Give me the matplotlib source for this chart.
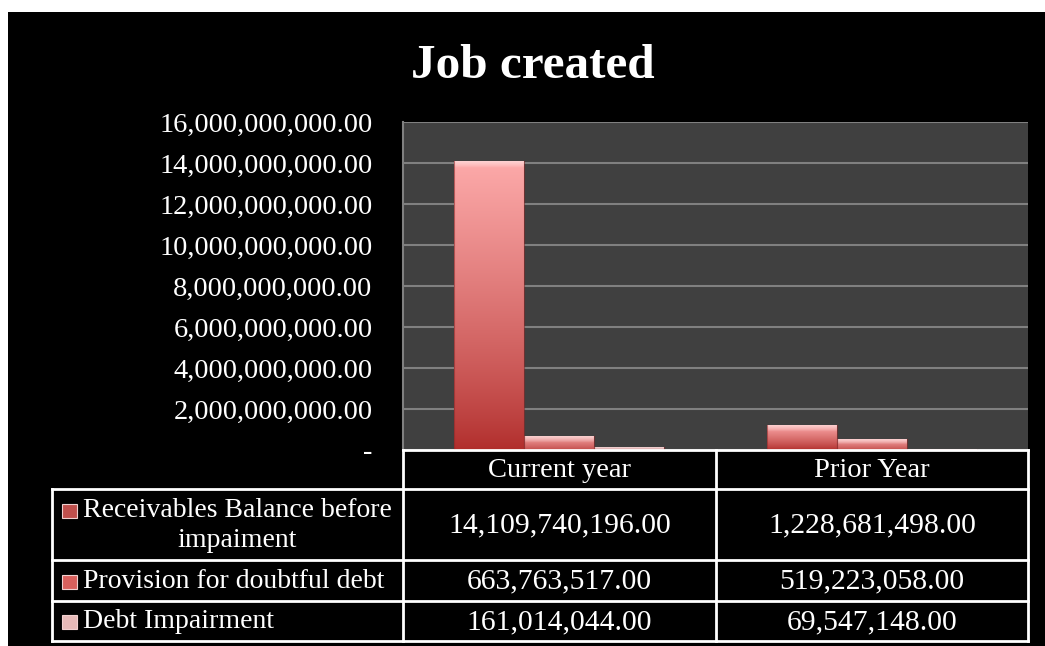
import numpy as np
import matplotlib
matplotlib.use("Agg")
import matplotlib.pyplot as plt
from matplotlib.patches import Rectangle
from matplotlib.colors import to_rgb
from matplotlib.ticker import FuncFormatter

# ---- data ----
categories = ["Current year", "Prior Year"]
series_names = ["Receivables Balance before\nimpaiment",
                "Provision for doubtful debt",
                "Debt Impairment"]
current_year = [14109740196.00, 663763517.00, 161014044.00]
prior_year = [1228681498.00, 519223058.00, 69547148.00]

# light top / dark bottom per series
series_top = ["#fdaaaa", "#f4a0a0", "#f2d0d0"]
series_bottom = ["#b02c2a", "#c04846", "#d8a0a0"]
key_colors = ["#c0504d", "#d9605d", "#e6b9b8"]

FONT = "Liberation Serif"
W, H = 1045, 646

fig = plt.figure(figsize=(W / 100, H / 100), dpi=100, facecolor="white")
# black panel (white margin on top and left like the original)
fig.patches.append(Rectangle((8 / W, 0), 1 - 8 / W, 1 - 12 / H,
                             transform=fig.transFigure, facecolor="black",
                             edgecolor="none", zorder=0))

ax = fig.add_axes([403 / W, 1 - 450 / H, (1028 - 403) / W, (450 - 122) / H])
ax.set_facecolor("#404040")
ax.set_zorder(1)

x = np.arange(len(categories))
bw = 0.224
values = [current_year, prior_year]
for i in range(len(series_names)):
    vals = [v[i] for v in values]
    bars = ax.bar(x + (i - 1) * bw, vals, bw, color=series_bottom[i],
                  edgecolor="none", zorder=2)
    for b in bars:
        x0, w, h = b.get_x(), b.get_width(), b.get_height()
        ph = h / 16e9 * 328
        n = 300
        t = np.linspace(0, 1, n)[:, None]  # 0 bottom, 1 top
        c0, c1 = np.array(to_rgb(series_bottom[i])), np.array(to_rgb(series_top[i]))
        col = c0 + (c1 - c0) * t ** 0.8
        # bevel highlight at the top, fading downwards
        frac = min(7 / max(ph, 1), 0.45)
        k = np.clip((t[:, 0] - (1 - frac)) / frac, 0, 1) ** 0.7
        col = col * (1 - 0.6 * k[:, None]) + np.array([1, 0.95, 0.95]) * 0.6 * k[:, None]
        img = np.repeat(col[:, None, :], 2, axis=1)
        im = ax.imshow(img, extent=[x0, x0 + w, 0, h], origin="lower",
                       aspect="auto", zorder=3, interpolation="bilinear")
        im.set_clip_path(b)
        ax.plot([x0, x0], [0, h], color="#8a2a2a", lw=0.8, zorder=4, alpha=0.6)
        ax.plot([x0 + w, x0 + w], [0, h], color="#8a2a2a", lw=0.8, zorder=4, alpha=0.6)

ax.set_xlim(-0.5, 1.5)
ax.set_ylim(0, 16e9)
ax.set_yticks(np.arange(0, 16e9 + 1, 2e9))
ax.yaxis.set_major_formatter(FuncFormatter(lambda v, p: "-" if v == 0 else f"{v:,.2f}"))
ax.set_xticks([])
ax.tick_params(axis="y", length=0, pad=22, labelcolor="white", labelsize=20.5)
for lab in ax.get_yticklabels():
    lab.set_family(FONT)
ax.grid(axis="y", color="#808080", lw=1.5, zorder=1)
ax.set_axisbelow(True)
for s in ["top", "right", "bottom"]:
    ax.spines[s].set_visible(False)
ax.spines["left"].set_color("#808080")
ax.spines["left"].set_linewidth(1.5)

fig.text(0.51, 1 - 66 / H, "Job created", fontsize=35.5, weight="bold",
         family=FONT, color="white", ha="center", va="center")

# ---- data table drawn in pixel coordinates ----
tab = fig.add_axes([0, 0, 1, 1])
tab.set_xlim(0, W)
tab.set_ylim(H, 0)
tab.axis("off")
tab.set_zorder(2)
tab.patch.set_visible(False)

cols = [52, 403, 716, 1028]
rows = [450, 489, 560, 601, 641]
lc = "white"
tab.plot([cols[1], cols[3]], [rows[0]] * 2, color=lc, lw=2)
for y in rows[1:]:
    tab.plot([cols[0], cols[3]], [y, y], color=lc, lw=2)
for xc in cols[1:]:
    tab.plot([xc, xc], [rows[0], rows[-1]], color=lc, lw=2)
tab.plot([cols[0], cols[0]], [rows[1], rows[-1]], color=lc, lw=2)

for j, cat in enumerate(categories):
    tab.text((cols[j + 1] + cols[j + 2]) / 2, (rows[0] + rows[1]) / 2 + 1, cat,
             color="white", family=FONT, fontsize=20.5, ha="center", va="center")

for i, name in enumerate(series_names):
    yc = (rows[i + 1] + rows[i + 2]) / 2 + 1
    ky = yc - 15 if "\n" in name else yc
    tab.add_patch(Rectangle((62, ky - 7), 15, 14, facecolor=key_colors[i],
                            edgecolor="#f0d0d0", lw=0.8))
    tab.text(83, yc, name, color="white", family=FONT, fontsize=20,
             ha="left", va="center", multialignment="center", linespacing=1.3)
    for j in range(len(categories)):
        tab.text((cols[j + 1] + cols[j + 2]) / 2, yc, f"{values[j][i]:,.2f}",
                 color="white", family=FONT, fontsize=21.3, ha="center", va="center")

fig.savefig("out.png", dpi=100, facecolor=fig.get_facecolor())
